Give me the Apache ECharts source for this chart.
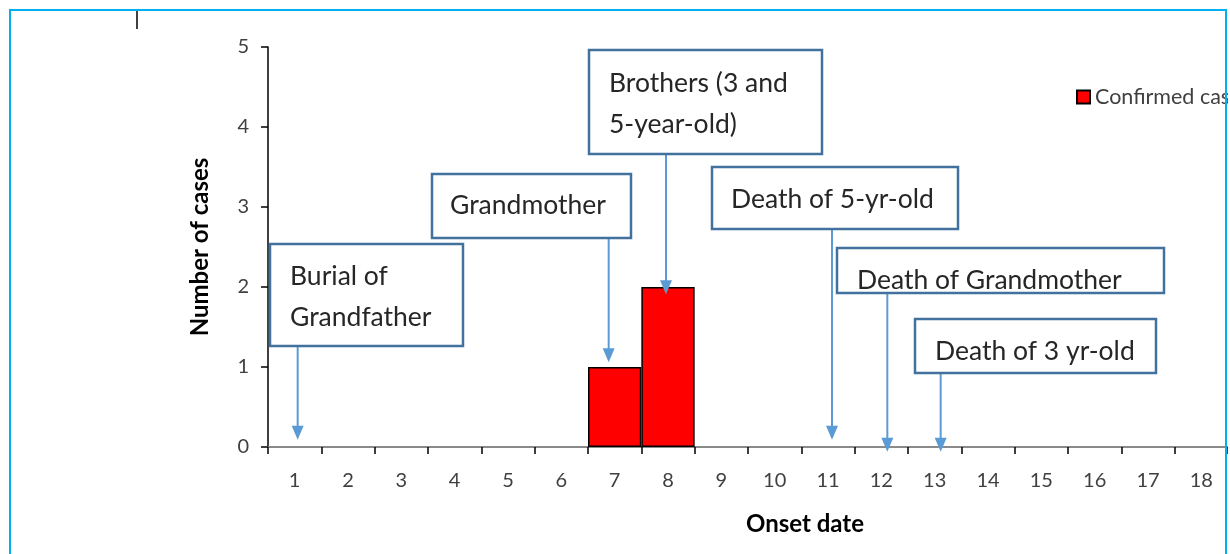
<!DOCTYPE html>
<html>
<head>
<meta charset="utf-8">
<script src="https://cdn.jsdelivr.net/npm/echarts@6/dist/echarts.min.js"></script>
<style>html,body{margin:0;padding:0;background:#fff;}#chart{width:1230px;height:554px;}</style>
</head>
<body>
<div id="chart"></div>
<script>
// ---- data ----
const days = ['1','2','3','4','5','6','7','8','9','10','11','12','13','14','15','16','17','18'];
const confirmedCases = [0,0,0,0,0,0,1,2,0,0,0,0,0,0,0,0,0,0];
const seriesName = 'Confirmed cases';
const yTickValues = [0,1,2,3,4,5];
const eventLabels = ['Burial of\nGrandfather','Grandmother','Brothers (3 and\n5-year-old)','Death of 5-yr-old','Death of Grandmother','Death of 3 yr-old'];
const eventDays = ['1','7','8','11','12','13'];
const eventTipValues = [0.09, 1.06, 1.91, 0.09, -0.06, -0.06];

// ---- layout (pixels) ----
const boxLayout = [
  {x:270, y:244, w:193, h:102, tx:290, ty:296.5, dx:3},
  {x:432, y:174, w:199, h:64,  tx:450, ty:205,   dx:-6},
  {x:589, y:50,  w:233, h:104, tx:609, ty:104,   dx:-2},
  {x:712, y:167, w:246, h:62,  tx:731, ty:199,   dx:4},
  {x:837, y:248, w:327, h:45,  tx:857, ty:280,   dx:6},
  {x:915, y:319, w:241, h:54,  tx:935, ty:351,   dx:6}
];
const FONT = 'Lato, "Open Sans", sans-serif';

const chart = echarts.init(document.getElementById('chart'), null, {renderer:'canvas'});
const option = {
  backgroundColor:'#ffffff',
  animation:false,
  grid:{left:268, top:47, width:960, height:400, containLabel:false},
  legend:{
    left:1071, top:81, icon:'rect', itemWidth:13, itemHeight:13, itemGap:6,
    textStyle:{fontFamily:FONT, fontSize:21.5, color:'#404040'},
    data:[seriesName]
  },
  xAxis:{
    type:'category', data:days, boundaryGap:true,
    name:'Onset date', nameLocation:'middle', nameGap:65,
    nameTextStyle:{fontFamily:FONT, fontWeight:'bold', fontSize:24, color:'#000', padding:[0,0,0,114]},
    axisLine:{lineStyle:{color:'#8a8a8a', width:2}},
    axisTick:{show:true, length:7, lineStyle:{color:'#000', width:1.5}, alignWithLabel:false},
    axisLabel:{fontFamily:FONT, fontSize:20, color:'#404040', margin:24, interval:0},
    splitLine:{show:false}
  },
  yAxis:{
    type:'value', min:yTickValues[0], max:yTickValues[yTickValues.length-1], interval:1,
    name:'Number of cases', nameLocation:'middle', nameGap:56,
    nameTextStyle:{fontFamily:FONT, fontWeight:'bold', fontSize:24, color:'#000'},
    axisLine:{show:true, lineStyle:{color:'#000', width:1.5}},
    axisTick:{show:true, length:7, lineStyle:{color:'#000', width:1.5}},
    axisLabel:{fontFamily:FONT, fontSize:20, color:'#404040', margin:19},
    splitLine:{show:false}
  },
  series:[{
    name:seriesName, type:'bar', barCategoryGap:'0%',
    data:confirmedCases.map(v => v === 0 ? '-' : v),
    itemStyle:{color:'#ff0000', borderColor:'#000', borderWidth:1.5}
  }]
};
chart.setOption(option);

// annotations positioned through the chart's own scales
const g = [];
eventLabels.forEach((lab, i) => {
  const L = boxLayout[i];
  const tip = chart.convertToPixel({gridIndex:0}, [eventDays[i], eventTipValues[i]]);
  const ax = tip[0] + L.dx;
  const ty = tip[1];
  g.push({type:'line', z:10, shape:{x1:ax, y1:L.y + L.h, x2:ax, y2:ty - 12},
    style:{stroke:'#5b9bd5', lineWidth:2}});
  g.push({type:'polygon', z:10, shape:{points:[[ax-6, ty-14],[ax+6, ty-14],[ax, ty]]},
    style:{fill:'#5b9bd5'}});
  g.push({type:'rect', z:11, shape:{x:L.x, y:L.y, width:L.w, height:L.h},
    style:{fill:'#ffffff', stroke:'#41719c', lineWidth:2.5}});
  g.push({type:'text', z:12, x:L.tx, y:L.ty,
    style:{text:lab, fontFamily:FONT, fontSize:26.5, fill:'#262626', lineHeight:41,
      textAlign:'left', textVerticalAlign:'middle'}});
});
// outer frame & small mark
g.push({type:'rect', z:20, shape:{x:1228, y:0, width:10, height:554}, style:{fill:'#ffffff'}});
g.push({type:'rect', z:21, shape:{x:10, y:10, width:1216, height:600},
  style:{fill:'none', stroke:'#00b0f0', lineWidth:2}});
g.push({type:'line', z:21, shape:{x1:137, y1:11, x2:137, y2:29}, style:{stroke:'#000', lineWidth:1.5}});
chart.setOption({graphic:g});
</script>
</body>
</html>
